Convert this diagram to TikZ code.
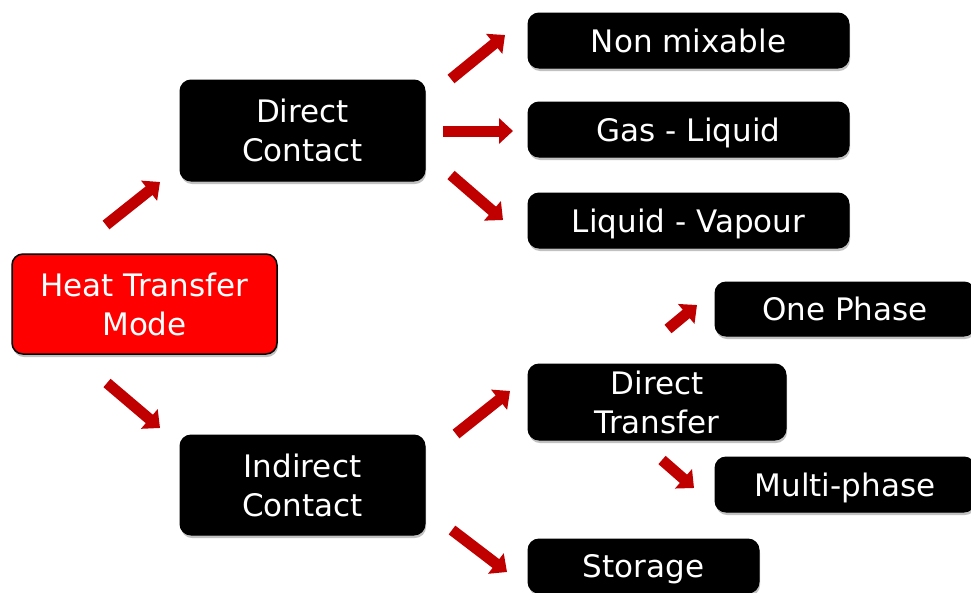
\documentclass[tikz,border=0pt]{standalone}
\usepackage{fontspec}
\setmainfont{DejaVu Sans}
\usepackage{tikz}
\usetikzlibrary{arrows.meta, shadows}

\definecolor{boxred}{HTML}{FF0000}
\definecolor{arrowred}{HTML}{C00000}

\begin{document}
\begin{tikzpicture}[x=1pt, y=-1pt,
  modebox/.style={rounded corners=11pt, fill=black, draw=black, line width=1pt,
    text=white, align=center, inner sep=0pt,
    font=\fontsize{31}{39}\selectfont,
    drop shadow={shadow xshift=1pt, shadow yshift=-3pt, opacity=0.35, fill=black!70}},
  onebox/.style={modebox, text height=23pt, text depth=0pt},
  rootbox/.style={modebox, fill=boxred, draw=black, line width=1.5pt},
  fat/.style={arrowred, line width=11pt, -{Triangle[width=25pt, length=14pt]}}
]

% Frame
\useasboundingbox (0,0) rectangle (971,592);
\clip (0,0) rectangle (971,592);

% Root
\node[rootbox, minimum width=265, minimum height=100] (htm) at (144.5,304) {Heat Transfer\\Mode};

% Contact types
\node[modebox, minimum width=245, minimum height=101] (dc) at (302.5,130.5) {Direct\\Contact};
\node[modebox, minimum width=245, minimum height=100] (ic) at (302.5,485) {Indirect\\Contact};

% Direct contact branches
\node[onebox, minimum width=321, minimum height=55] (nm) at (688.5,40.5) {Non mixable};
\node[onebox, minimum width=321, minimum height=55] (gl) at (688.5,129.5) {Gas - Liquid};
\node[onebox, minimum width=321, minimum height=55] (lv) at (688.5,220.5) {Liquid - Vapour};

% Indirect contact branches
\node[modebox, minimum width=258, minimum height=76] (dt) at (657,402) {Direct\\Transfer};
\node[onebox, minimum width=231, minimum height=54] (st) at (643.5,566) {Storage};
\node[onebox, minimum width=260, minimum height=54] (op) at (845,309) {One Phase};
\node[onebox, minimum width=260, minimum height=55] (mp) at (845,484.5) {Multi-phase};

% Arrow ends
\coordinate (htm-dc-a) at (106,225); \coordinate (htm-dc-b) at (160,182);
\coordinate (htm-ic-a) at (107,383); \coordinate (htm-ic-b) at (160,428);
\coordinate (dc-nm-a) at (451,79);   \coordinate (dc-nm-b) at (505,35);
\coordinate (dc-gl-a) at (443,131);  \coordinate (dc-gl-b) at (513,131);
\coordinate (dc-lv-a) at (451,175);  \coordinate (dc-lv-b) at (503,220);
\coordinate (ic-dt-a) at (456,434);  \coordinate (ic-dt-b) at (510,391);
\coordinate (ic-st-a) at (452,530);  \coordinate (ic-st-b) at (507,572);
\coordinate (dt-op-a) at (668,329);  \coordinate (dt-op-b) at (697,305);
\coordinate (dt-mp-a) at (662,460);  \coordinate (dt-mp-b) at (694,488);

% Arrows
\foreach \s/\t in {htm/dc, htm/ic, dc/nm, dc/gl, dc/lv, ic/dt, ic/st, dt/op, dt/mp}
  \draw[fat] (\s-\t-a) -- (\s-\t-b);

\end{tikzpicture}
\end{document}
